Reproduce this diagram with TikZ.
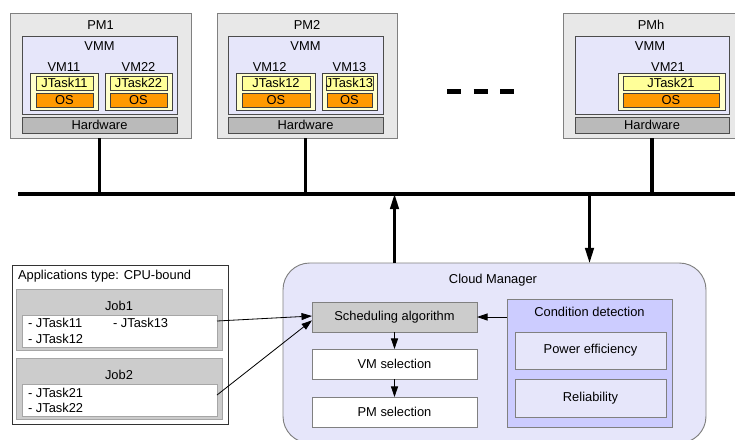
\documentclass[tikz,border=0pt]{standalone}
\usepackage{fontspec}
\setmainfont{Liberation Sans}
\usetikzlibrary{arrows.meta}
\definecolor{pmfill}{RGB}{232,232,232}
\definecolor{vmmfill}{RGB}{230,230,250}
\definecolor{vmfill}{RGB}{255,255,204}
\definecolor{taskfill}{RGB}{255,255,153}
\definecolor{osfill}{RGB}{255,153,0}
\definecolor{hwfill}{RGB}{186,186,186}
\definecolor{jobfill}{RGB}{204,204,204}
\definecolor{condfill}{RGB}{204,204,255}
\definecolor{edge}{RGB}{128,128,128}

\begin{document}
\begin{tikzpicture}[x=0.03cm,y=-0.03cm,font=\fontsize{11}{12}\selectfont]
        \tikzstyle{every node}+=[inner sep=0pt,outer sep=0pt]
        \tikzset{sz/.style 2 args={minimum width=#1*0.03cm,minimum height=#2*0.03cm}}
        \tikzstyle{pm}=[draw=edge,fill=pmfill,line width=0.8pt]
        \tikzstyle{vmm}=[draw=black!70,fill=vmmfill,line width=0.8pt]
        \tikzstyle{vm}=[draw=black!75,fill=vmfill,line width=0.8pt]
        \tikzstyle{task}=[draw=black!75,fill=taskfill,line width=0.6pt]
        \tikzstyle{os}=[draw=black!75,fill=osfill,line width=0.6pt]
        \tikzstyle{hw}=[draw=black!70,fill=hwfill,line width=0.8pt,sz={155}{16}]
        \tikzstyle{bar}=[line width=3.4pt]
        \tikzstyle{algo}=[draw=edge,line width=0.8pt,sz={165}{30}]
        \tikzstyle{arr}=[-{Triangle[length=9pt,width=6pt]},line width=0.7pt]
        \tikzstyle{bigarr}=[-{Triangle[length=13pt,width=7.5pt]},line width=2pt]
        \useasboundingbox (0,0) rectangle (735,439);

        % physical machines
        \node [pm,sz={181}{125}] (pm1) at (100.5,75.5) {};
        \node (pm1l) at (100.5,25) {PM1};
        \node [vmm,sz={155}{78}] (vmm1) at (99.5,75) {};
        \node (vmm1l) at (99.5,46) {VMM};
        \node [vm,sz={68}{37},label={[yshift=1.5pt]above:VM11}] (vm11) at (64,91.5) {};
        \node [task,sz={57}{14}] (t11) at (64.5,83) {JTask11};
        \node [os,sz={57}{14}] (os11) at (64.5,100) {OS};
        \node [vm,sz={67}{37},label={[yshift=1.5pt]above:VM22}] (vm22) at (138.5,91.5) {};
        \node [task,sz={57}{14}] (t22) at (138.5,83) {JTask22};
        \node [os,sz={57}{14}] (os22) at (138.5,100) {OS};
        \node [hw] (hw1) at (99.5,125) {Hardware};

        \node [pm,sz={180}{125}] (pm2) at (307,75.5) {};
        \node (pm2l) at (307,25) {PM2};
        \node [vmm,sz={155}{78}] (vmm2) at (305.5,75) {};
        \node (vmm2l) at (305.5,46) {VMM};
        \node [vm,sz={79}{37},label={[yshift=1.5pt,xshift=-5pt]above:VM12}] (vm12) at (275.5,91.5) {};
        \node [task,sz={68}{14}] (t12) at (276,83) {JTask12};
        \node [os,sz={68}{14}] (os12) at (276,100) {OS};
        \node [vm,sz={55}{37},label={[yshift=1.5pt]above:VM13}] (vm13) at (349.5,91.5) {};
        \node [task,sz={45}{14}] (t13) at (349.5,83) {JTask13};
        \node [os,sz={45}{14}] (os13) at (349.5,100) {OS};
        \node [hw] (hw2) at (305.5,125) {Hardware};

        \node [pm,sz={172}{125}] (pmh) at (649,75.5) {};
        \node (pmhl) at (651,25) {PMh};
        \node [vmm,sz={154}{78}] (vmmh) at (652,75) {};
        \node (vmmhl) at (650,46) {VMM};
        \node [vm,sz={107}{37},label={[yshift=1.5pt,xshift=-3pt]above:VM21}] (vm21) at (671.5,91.5) {};
        \node [task,sz={96}{14}] (t21) at (671,83) {JTask21};
        \node [os,sz={96}{14}] (os21) at (671,100) {OS};
        \node [hw,sz={154}{16}] (hwh) at (652,125) {Hardware};

        \coordinate (dotsl) at (447,91.5);
        \coordinate (dotsr) at (514,91.5);
        \draw [line width=0.15cm,dash pattern=on 0.42cm off 0.375cm] (dotsl) -- (dotsr);

        % network
        \coordinate (busl) at (18,194);
        \coordinate (busr) at (735,194);
        \draw [line width=4.2pt] (busl) -- (busr);
        \draw [bar] (hw1.south |- pm1.south) -- (hw1.south |- busl);
        \draw [bar] (hw2.south |- pm2.south) -- (hw2.south |- busl);
        \draw [bar] (hwh.south |- pmh.south) -- (hwh.south |- busl);

        % applications
        \node [draw=black!80,fill=white,line width=0.8pt,sz={216}{159}] (apps) at (120,344.5) {};
        \node [anchor=west] (appsl) at (18,276) {Applications type: CPU-bound};
        \node [draw=black!35,fill=jobfill,line width=0.8pt,sz={206}{61}] (job1) at (119,319.5) {};
        \node (job1l) at (119,305.5) {Job1};
        \node [draw=black!35,fill=white,line width=0.8pt,sz={195}{32}] (list1) at (119.5,331) {};
        \node [anchor=west] (l11) at (28,323) {- JTask11};
        \node [anchor=west] (l13) at (113,323) {- JTask13};
        \node [anchor=west] (l12) at (28,339) {- JTask12};
        \node [draw=black!35,fill=jobfill,line width=0.8pt,sz={206}{61}] (job2) at (119,388.5) {};
        \node (job2l) at (119,375) {Job2};
        \node [draw=black!35,fill=white,line width=0.8pt,sz={195}{32}] (list2) at (119.5,400) {};
        \node [anchor=west] (l21) at (28,393) {- JTask21};
        \node [anchor=west] (l22) at (28,408) {- JTask22};

        % cloud manager
        \node [draw=edge,fill=vmmfill,line width=0.8pt,rounded corners=0.8cm,sz={423}{180}] (cm) at (494.5,353) {};
        \node (cml) at (493,280) {Cloud Manager};
        \node [algo,fill=jobfill] (sched) at (394.5,317) {Scheduling algorithm};
        \node [algo,fill=white] (vmsel) at (394.5,364) {VM selection};
        \node [algo,fill=white] (pmsel) at (394.5,412) {PM selection};
        \node [draw=edge,fill=condfill,line width=0.8pt,sz={165}{128}] (cond) at (589.5,363) {};
        \node (condl) at (589.5,312) {Condition detection};
        \node [draw=edge,fill=vmmfill,line width=0.8pt,sz={151}{37}] (power) at (590.5,350.5) {Power efficiency};
        \node [draw=edge,fill=vmmfill,line width=0.8pt,sz={151}{38}] (rel) at (590.5,398) {Reliability};

        \draw [arr] (cond.west |- sched) -- (sched.east);
        \draw [arr] (sched) -- (vmsel);
        \draw [arr] (vmsel) -- (pmsel);
        \draw [arr] ([yshift=0.3cm]list1.east) -- ([yshift=0.03cm]sched.west);
        \draw [arr] ([yshift=0.15cm]list2.east) -- ([yshift=-0.1cm]sched.west);

        \draw [bigarr] (cm.north -| sched) -- (sched |- busl);
        \draw [bigarr] (cond |- busl) -- (cond |- cm.north);
\end{tikzpicture}
\end{document}
